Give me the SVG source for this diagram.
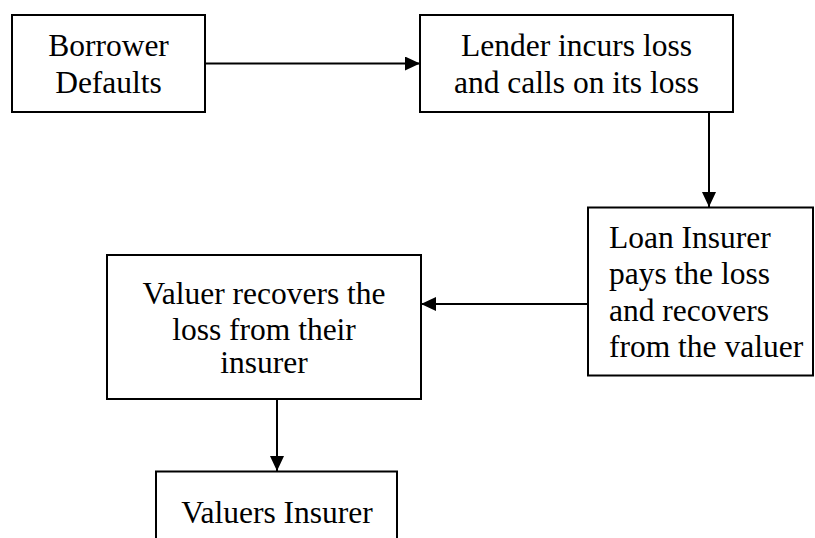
<svg xmlns="http://www.w3.org/2000/svg" width="815" height="538" viewBox="0 0 815 538">
<style>
.box{fill:#fff;stroke:#000;stroke-width:2}
.t{font-family:"Liberation Serif","Times New Roman",serif;font-size:31.5px;fill:#000}
.c{text-anchor:middle}
.edge{stroke:#000;stroke-width:2;fill:none;marker-end:url(#ah)}
</style>
<defs>
<marker id="ah" markerUnits="userSpaceOnUse" markerWidth="16" markerHeight="14" refX="15" refY="7" orient="auto">
<path d="M0,0 L15,7 L0,14 Z" fill="#000"/>
</marker>
</defs>
<rect width="815" height="538" fill="#fff"/>
<g id="connectors">
<line class="edge" x1="205" y1="63.5" x2="420" y2="63.5"/>
<line class="edge" x1="709" y1="112" x2="709" y2="207"/>
<line class="edge" x1="588" y1="304" x2="421" y2="304"/>
<line class="edge" x1="277" y1="399" x2="277" y2="471"/>
</g>
<g id="borrower">
<rect class="box" x="12" y="15" width="193" height="97"/>
<text class="t c" x="108.5" y="56">Borrower</text>
<text class="t c" x="108.5" y="93">Defaults</text>
</g>
<g id="lender">
<rect class="box" x="420" y="15" width="313" height="97"/>
<text class="t c" x="576.5" y="56">Lender incurs loss</text>
<text class="t c" x="576.5" y="93">and calls on its loss</text>
</g>
<g id="loaninsurer">
<rect class="box" x="588" y="207.5" width="225" height="168"/>
<text class="t" x="609" y="248">Loan Insurer</text>
<text class="t" x="609" y="284">pays the loss</text>
<text class="t" x="609" y="320.5">and recovers</text>
<text class="t" x="609" y="356.5">from the valuer</text>
</g>
<g id="valuer">
<rect class="box" x="107" y="255" width="314" height="144"/>
<text class="t c" x="264" y="304">Valuer recovers the</text>
<text class="t c" x="264" y="340">loss from their</text>
<text class="t c" x="264" y="373">insurer</text>
</g>
<g id="valuersinsurer">
<rect class="box" x="156" y="471.5" width="241" height="80"/>
<text class="t c" x="277" y="523">Valuers Insurer</text>
</g>
</svg>
